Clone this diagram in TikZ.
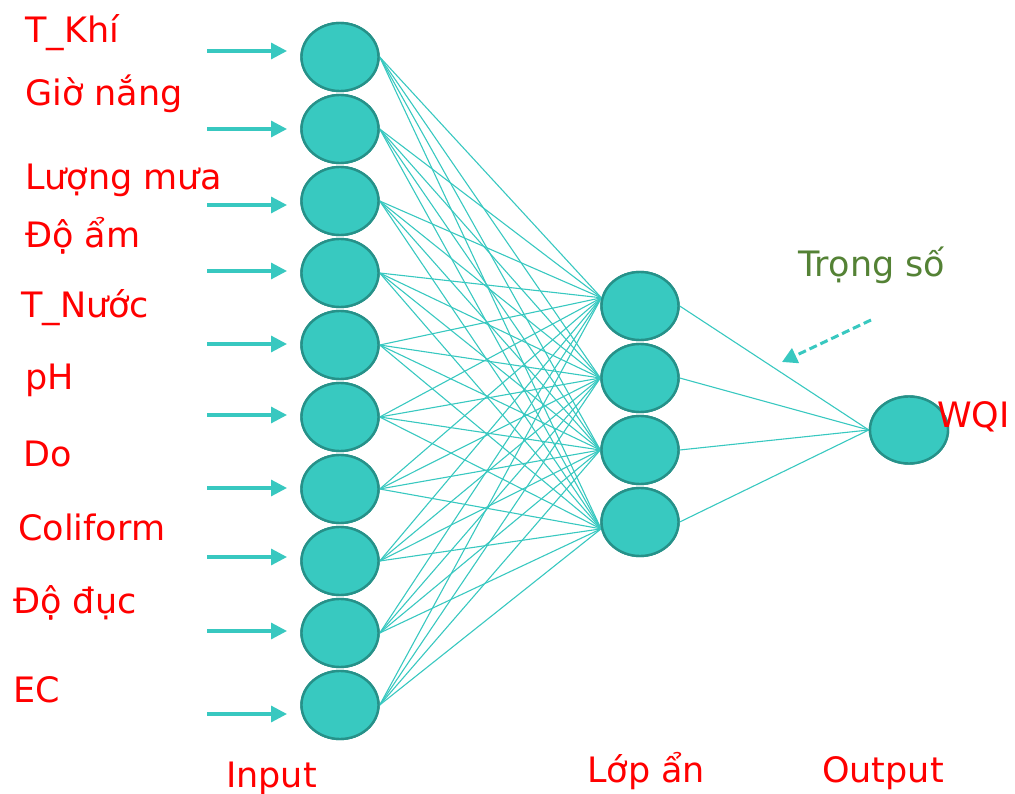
\documentclass[tikz,border=0pt]{standalone}
\usepackage{fontspec}
\setmainfont{DejaVu Sans}
\usetikzlibrary{shapes.geometric,arrows.meta}
\definecolor{tealfill}{RGB}{56,201,192}
\definecolor{tealdark}{RGB}{38,145,137}
\definecolor{tealline}{RGB}{56,200,192}
\definecolor{lblred}{RGB}{255,0,0}
\definecolor{lblgreen}{RGB}{84,130,53}
\tikzset{
  neuron/.style={ellipse, draw=tealdark, fill=tealfill, line width=2.4pt, minimum width=77pt, minimum height=68pt, inner sep=0pt},
  lbl/.style={text=lblred, anchor=base west, inner sep=0pt, font=\fontsize{35}{42}\selectfont},
  glbl/.style={text=lblgreen, anchor=base west, inner sep=0pt, font=\fontsize{35}{42}\selectfont},
  inarrow/.style={draw=tealline, line width=3.2pt, -{Triangle[length=16pt,width=16pt]}},
  wire/.style={draw=tealline, line width=1.1pt},
}
\begin{document}
\begin{tikzpicture}[x=1pt,y=-1pt]
\useasboundingbox (0,0) rectangle (1015,794);
% input layer
\foreach \i/\y in {1/57,2/129,3/201,4/273,5/345,6/417,7/489,8/561,9/633,10/705}{
  \node[neuron] (i\i) at (340,\y) {};
}
% hidden layer
\foreach \j/\y in {1/306,2/378,3/450,4/522}{
  \node[neuron] (h\j) at (640,\y) {};
}
% output
\node[neuron, minimum width=78pt, minimum height=67pt] (o) at (909,430) {};
% wires input -> hidden
\foreach \i in {1,...,10}{
  \draw[wire] (i\i.east) -- (h1.168);
  \draw[wire] (i\i.east) -- (h2.west);
  \draw[wire] (i\i.east) -- (h3.west);
  \draw[wire] (i\i.east) -- (h4.190);
}
\foreach \j in {1,...,4}{
  \draw[wire] (h\j.east) -- (o.west);
}
% redraw neurons on top of wires
\foreach \i/\y in {1/57,2/129,3/201,4/273,5/345,6/417,7/489,8/561,9/633,10/705}{
  \node[neuron] at (340,\y) {};
}
\foreach \j/\y in {1/306,2/378,3/450,4/522}{
  \node[neuron] at (640,\y) {};
}
\node[neuron, minimum width=78pt, minimum height=67pt] at (909,430) {};
% input arrows
\foreach \i/\y in {1/51,2/129,3/205,4/271,5/344,6/415,7/488,8/557,9/631,10/714}{
  \coordinate (s\i) at (207,\y);
  \coordinate (e\i) at (287,\y);
  \draw[inarrow] (s\i) -- (e\i);
}
% labels
\node[lbl] (l1) at (25,43) {T\_Khí};
\node[lbl] (l2) at (25,106) {Giờ nắng};
\node[lbl] (l3) at (25,190) {Lượng mưa};
\node[lbl] (l4) at (25,248) {Độ ẩm};
\node[lbl] (l5) at (21,318) {T\_Nước};
\node[lbl] (l6) at (25,389) {pH};
\node[lbl] (l7) at (23,466) {Do};
\node[lbl] (l8) at (18,540) {Coliform};
\node[lbl] (l9) at (13,613) {Độ đục};
\node[lbl] (l10) at (13,702) {EC};
\node[lbl] (tin) at (226,787) {Input};
\node[lbl] (thid) at (587,782) {Lớp ẩn};
\node[lbl] (tout) at (822,782) {Output};
\node[lbl] (twqi) at (937,427) {WQI};
\node[glbl] (tw) at (798,277) {Trọng số};
% weight arrow
\coordinate (wa) at (871,320);
\coordinate (wb) at (782,362);
\draw[draw=tealline, line width=3pt, dash pattern=on 8pt off 4pt, -{Triangle[length=15pt,width=16pt]}] (wa) -- (wb);
\end{tikzpicture}
\end{document}
